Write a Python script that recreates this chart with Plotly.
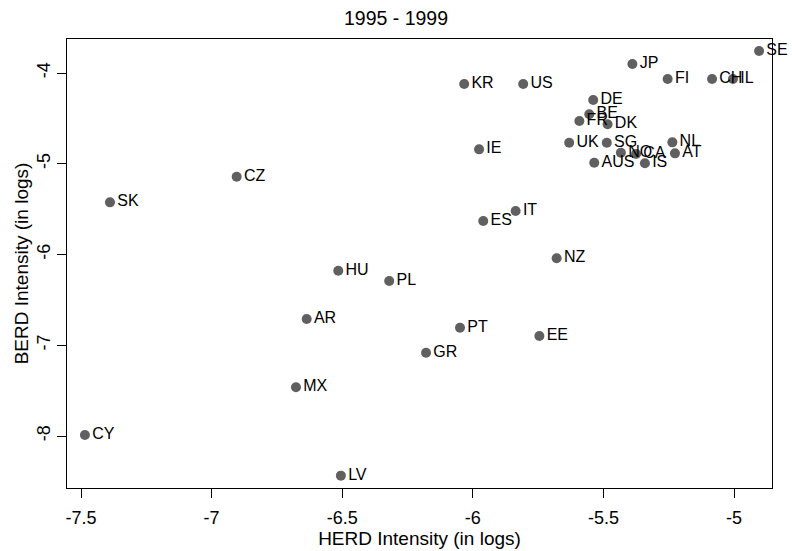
import plotly.graph_objects as go

countries = ["SE", "JP", "FI", "CH", "IL", "KR", "US", "DE", "BE", "FR", "DK",
             "UK", "SG", "NO", "CA", "AUS", "IS", "NL", "AT", "IE", "CZ", "SK",
             "ES", "IT", "NZ", "HU", "PL", "AR", "PT", "EE", "GR", "MX", "CY", "LV"]
herd = [-4.904, -5.389, -5.254, -5.084, -5.004, -6.033, -5.807, -5.539, -5.554,
        -5.592, -5.484, -5.631, -5.487, -5.433, -5.375, -5.535, -5.341, -5.236,
        -5.226, -5.976, -6.904, -7.389, -5.960, -5.836, -5.679, -6.515, -6.320,
        -6.636, -6.049, -5.745, -6.179, -6.677, -7.485, -6.505]
berd = [-3.758, -3.901, -4.066, -4.066, -4.066, -4.121, -4.121, -4.298, -4.455,
        -4.529, -4.565, -4.768, -4.768, -4.878, -4.893, -4.988, -4.995, -4.764,
        -4.885, -4.841, -5.143, -5.425, -5.631, -5.521, -6.042, -6.179, -6.292,
        -6.711, -6.807, -6.898, -7.082, -7.463, -7.989, -8.437]

x_ticks = [-7.5, -7, -6.5, -6, -5.5, -5]
x_tick_labels = ["-7.5", "-7", "-6.5", "-6", "-5.5", "-5"]
y_ticks = [-8, -7, -6, -5, -4]
y_tick_labels = ["-8", "-7", "-6", "-5", "-4"]

font_family = "Liberation Sans, Arial, sans-serif"

fig = go.Figure(go.Scatter(
    x=herd, y=berd, mode="markers+text", text=countries,
    textposition="middle right",
    textfont=dict(family=font_family, size=16, color="black"),
    marker=dict(size=10, color="#606060", line=dict(width=0)),
    cliponaxis=False, hoverinfo="text",
))

axis_common = dict(
    showline=True, linecolor="black", linewidth=1, mirror=True,
    ticks="outside", ticklen=9, tickcolor="black", showgrid=False,
    zeroline=False, automargin=False,
    tickfont=dict(family=font_family, size=18, color="black"),
)

fig.update_layout(
    width=792, height=551,
    margin=dict(l=67, r=20, t=39, b=63),
    paper_bgcolor="white", plot_bgcolor="white",
    showlegend=False,
    title=dict(text="1995 - 1999", x=0.5, xanchor="center", y=0.967, yanchor="middle",
               font=dict(family=font_family, size=19.5, color="black")),
    xaxis=dict(range=[-7.5536, -4.8545], tickvals=x_ticks, ticktext=x_tick_labels,
               ticklabelstandoff=4,
               title=dict(text="HERD Intensity (in logs)", standoff=0,
                          font=dict(family=font_family, size=19, color="black")),
               **axis_common),
    yaxis=dict(range=[-8.573, -3.625], tickvals=y_ticks, ticktext=y_tick_labels,
               tickangle=-90, ticklabelstandoff=0,
               title=dict(text="BERD Intensity (in logs)", standoff=0,
                          font=dict(family=font_family, size=19, color="black")),
               **axis_common),
)

fig.write_html("out.html")
